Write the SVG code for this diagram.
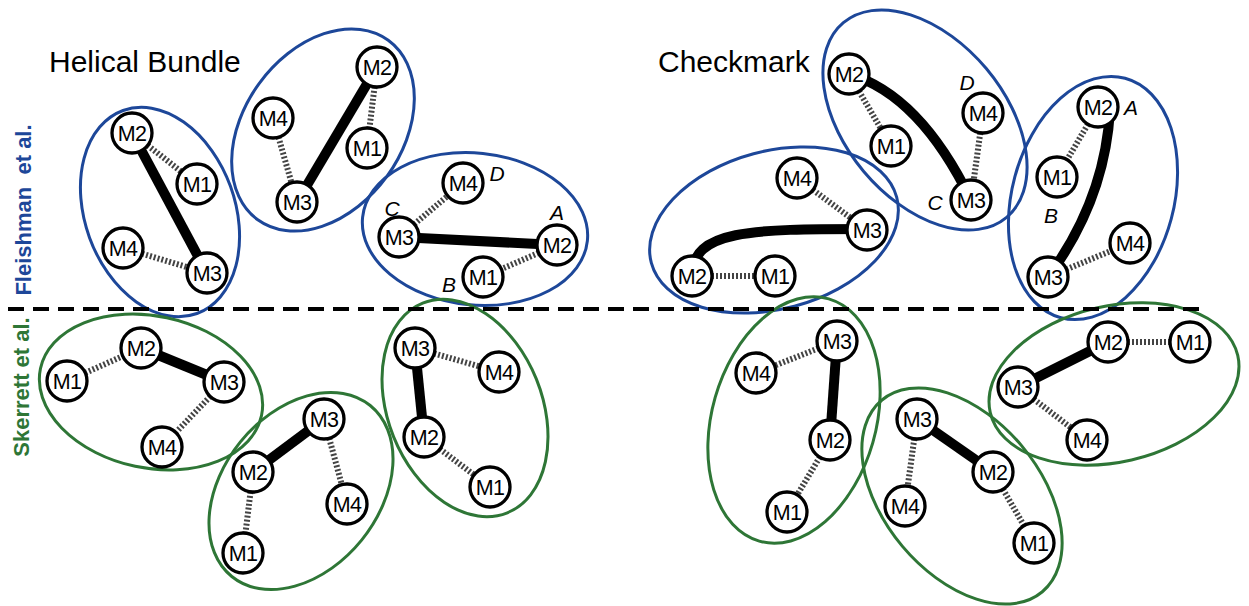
<svg xmlns="http://www.w3.org/2000/svg" width="1249" height="606" viewBox="0 0 1249 606">
  <style>
    .fl { fill: none; stroke: #1d4799; stroke-width: 3; }
    .sk { fill: none; stroke: #2e7636; stroke-width: 3; }
    .strong { fill: none; stroke: #000; stroke-width: 10; stroke-linecap: butt; }
    .weak { fill: none; stroke: #444; stroke-width: 6; stroke-dasharray: 2 2; }
    .node text { font-family: "Liberation Sans", Arial, sans-serif; font-size: 21.5px; text-anchor: middle; fill: #000; letter-spacing: -0.8px; }
    .title { font-family: "Liberation Sans", Arial, sans-serif; font-size: 30px; fill: #000; }
    .side { font-family: "Liberation Sans", Arial, sans-serif; font-size: 22px; font-weight: bold; text-anchor: middle; white-space: pre; }
    .site { font-family: "Liberation Sans", Arial, sans-serif; font-size: 21px; font-style: italic; fill: #000; text-anchor: middle; }
  </style>
  <defs>
    <!-- white bead with black rim, reused for every subunit -->
    <circle id="bead" r="20" fill="#fff" stroke="#000" stroke-width="3.3"/>
  </defs>

  <rect width="1249" height="606" fill="#fff"/>

  <!-- headings -->
  <text class="title" x="49" y="72">Helical Bundle</text>
  <text class="title" x="658" y="72">Checkmark</text>
  <text class="side" fill="#1d4799" transform="translate(31 210) rotate(-90)">Fleishman  et al.</text>
  <text class="side" fill="#2e7636" transform="translate(29 387) rotate(-90)">Skerrett et al.</text>

  <!-- cluster outlines -->
  <g id="clusters">
    <ellipse class="fl" cx="160" cy="212" rx="75" ry="108" transform="rotate(-20 160 212)"/>
    <ellipse class="fl" cx="323" cy="130" rx="79" ry="111" transform="rotate(36 323 130)"/>
    <ellipse class="fl" cx="475" cy="229" rx="113" ry="76" transform="rotate(6 475 229)"/>
    <ellipse class="fl" cx="925" cy="120" rx="80" ry="127" transform="rotate(-40 925 120)"/>
    <ellipse class="fl" cx="774" cy="230" rx="127" ry="79" transform="rotate(-15 774 230)"/>
    <ellipse class="fl" cx="1093" cy="198" rx="81" ry="124" transform="rotate(15 1093 198)"/>

    <ellipse class="sk" cx="151" cy="392" rx="113" ry="76" transform="rotate(12 151 392)"/>
    <ellipse class="sk" cx="301" cy="491" rx="78" ry="110" transform="rotate(39 301 491)"/>
    <ellipse class="sk" cx="465" cy="408" rx="77" ry="113" transform="rotate(-22 465 408)"/>
    <ellipse class="sk" cx="794" cy="420" rx="82" ry="126" transform="rotate(16 794 420)"/>
    <ellipse class="sk" cx="962" cy="496" rx="78" ry="125" transform="rotate(-40 962 496)"/>
    <ellipse class="sk" cx="1114" cy="384" rx="127" ry="78" transform="rotate(-13 1114 384)"/>
  </g>

  <!-- divider between the two model sets -->
  <line x1="8" y1="309" x2="1202" y2="309" stroke="#000" stroke-width="4" stroke-dasharray="16 9"/>

  <g id="connectors">
    <!-- helical bundle, Fleishman -->
    <line class="strong" x1="132" y1="133" x2="207" y2="273"/>
    <line class="weak" x1="132" y1="133" x2="197" y2="184"/>
    <line class="weak" x1="123" y1="248" x2="207" y2="273"/>
    <line class="strong" x1="377" y1="67" x2="297" y2="202"/>
    <line class="weak" x1="377" y1="67" x2="367" y2="148"/>
    <line class="weak" x1="273" y1="118" x2="297" y2="202"/>
    <line class="strong" x1="399" y1="237" x2="557" y2="245"/>
    <line class="weak" x1="399" y1="237" x2="463" y2="183"/>
    <line class="weak" x1="557" y1="245" x2="483" y2="277"/>
    <!-- checkmark, Fleishman -->
    <path class="strong" d="M849 74 Q920 95 971 200"/>
    <line class="weak" x1="849" y1="74" x2="891" y2="146"/>
    <line class="weak" x1="983" y1="113" x2="971" y2="200"/>
    <path class="strong" d="M867 229 C750 229 692 230 692 276"/>
    <line class="weak" x1="797" y1="178" x2="867" y2="230"/>
    <line class="weak" x1="692" y1="276" x2="775" y2="276"/>
    <path class="strong" d="M1110 110 Q1105 200 1048 277"/>
    <line class="weak" x1="1098" y1="107" x2="1057" y2="177"/>
    <line class="weak" x1="1048" y1="277" x2="1130" y2="243"/>
    <!-- helical bundle, Skerrett -->
    <line class="strong" x1="141" y1="348" x2="224" y2="382"/>
    <line class="weak" x1="67" y1="381" x2="141" y2="348"/>
    <line class="weak" x1="224" y1="382" x2="162" y2="447"/>
    <line class="strong" x1="324" y1="419" x2="253" y2="472"/>
    <line class="weak" x1="324" y1="419" x2="347" y2="504"/>
    <line class="weak" x1="253" y1="472" x2="243" y2="553"/>
    <line class="strong" x1="415" y1="348" x2="424" y2="437"/>
    <line class="weak" x1="415" y1="348" x2="499" y2="372"/>
    <line class="weak" x1="424" y1="437" x2="490" y2="487"/>
    <!-- checkmark, Skerrett -->
    <line class="strong" x1="837" y1="341" x2="830" y2="440"/>
    <line class="weak" x1="837" y1="341" x2="756" y2="373"/>
    <line class="weak" x1="830" y1="440" x2="787" y2="512"/>
    <line class="strong" x1="917" y1="419" x2="993" y2="472"/>
    <line class="weak" x1="917" y1="419" x2="905" y2="506"/>
    <line class="weak" x1="993" y1="472" x2="1034" y2="543"/>
    <line class="strong" x1="1108" y1="342" x2="1018" y2="387"/>
    <line class="weak" x1="1108" y1="342" x2="1190" y2="342"/>
    <line class="weak" x1="1018" y1="387" x2="1087" y2="440"/>
  </g>

  <!-- helical bundle, Fleishman -->
  <g id="hb-f1-m2" class="node" transform="translate(132 133)"><use href="#bead"/><text y="7.5">M2</text></g>
  <g id="hb-f1-m1" class="node" transform="translate(197 184)"><use href="#bead"/><text y="7.5">M1</text></g>
  <g id="hb-f1-m4" class="node" transform="translate(123 248)"><use href="#bead"/><text y="7.5">M4</text></g>
  <g id="hb-f1-m3" class="node" transform="translate(207 273)"><use href="#bead"/><text y="7.5">M3</text></g>

  <g id="hb-f2-m2" class="node" transform="translate(377 67)"><use href="#bead"/><text y="7.5">M2</text></g>
  <g id="hb-f2-m4" class="node" transform="translate(273 118)"><use href="#bead"/><text y="7.5">M4</text></g>
  <g id="hb-f2-m1" class="node" transform="translate(367 148)"><use href="#bead"/><text y="7.5">M1</text></g>
  <g id="hb-f2-m3" class="node" transform="translate(297 202)"><use href="#bead"/><text y="7.5">M3</text></g>

  <g id="hb-f3-m4" class="node" transform="translate(463 183)"><use href="#bead"/><text y="7.5">M4</text></g>
  <g id="hb-f3-m3" class="node" transform="translate(399 237)"><use href="#bead"/><text y="7.5">M3</text></g>
  <g id="hb-f3-m2" class="node" transform="translate(557 245)"><use href="#bead"/><text y="7.5">M2</text></g>
  <g id="hb-f3-m1" class="node" transform="translate(483 277)"><use href="#bead"/><text y="7.5">M1</text></g>
  <g id="hb-f3-sites">
    <text class="site" x="497" y="181">D</text>
    <text class="site" x="392" y="216">C</text>
    <text class="site" x="557" y="220">A</text>
    <text class="site" x="449" y="292">B</text>
  </g>

  <!-- checkmark, Fleishman -->
  <g id="cm-f1-m2" class="node" transform="translate(849 74)"><use href="#bead"/><text y="7.5">M2</text></g>
  <g id="cm-f1-m1" class="node" transform="translate(891 146)"><use href="#bead"/><text y="7.5">M1</text></g>
  <g id="cm-f1-m4" class="node" transform="translate(983 113)"><use href="#bead"/><text y="7.5">M4</text></g>
  <g id="cm-f1-m3" class="node" transform="translate(971 200)"><use href="#bead"/><text y="7.5">M3</text></g>
  <g id="cm-f1-sites">
    <text class="site" x="967" y="90">D</text>
    <text class="site" x="935" y="210">C</text>
  </g>

  <g id="cm-f2-m4" class="node" transform="translate(797 178)"><use href="#bead"/><text y="7.5">M4</text></g>
  <g id="cm-f2-m3" class="node" transform="translate(867 230)"><use href="#bead"/><text y="7.5">M3</text></g>
  <g id="cm-f2-m2" class="node" transform="translate(692 276)"><use href="#bead"/><text y="7.5">M2</text></g>
  <g id="cm-f2-m1" class="node" transform="translate(775 276)"><use href="#bead"/><text y="7.5">M1</text></g>

  <g id="cm-f3-m2" class="node" transform="translate(1098 107)"><use href="#bead"/><text y="7.5">M2</text></g>
  <g id="cm-f3-m1" class="node" transform="translate(1057 177)"><use href="#bead"/><text y="7.5">M1</text></g>
  <g id="cm-f3-m4" class="node" transform="translate(1130 243)"><use href="#bead"/><text y="7.5">M4</text></g>
  <g id="cm-f3-m3" class="node" transform="translate(1048 277)"><use href="#bead"/><text y="7.5">M3</text></g>
  <g id="cm-f3-sites">
    <text class="site" x="1131" y="115">A</text>
    <text class="site" x="1051" y="223">B</text>
  </g>

  <!-- helical bundle, Skerrett -->
  <g id="hb-s1-m2" class="node" transform="translate(141 348)"><use href="#bead"/><text y="7.5">M2</text></g>
  <g id="hb-s1-m1" class="node" transform="translate(67 381)"><use href="#bead"/><text y="7.5">M1</text></g>
  <g id="hb-s1-m3" class="node" transform="translate(224 382)"><use href="#bead"/><text y="7.5">M3</text></g>
  <g id="hb-s1-m4" class="node" transform="translate(162 447)"><use href="#bead"/><text y="7.5">M4</text></g>

  <g id="hb-s2-m3" class="node" transform="translate(324 419)"><use href="#bead"/><text y="7.5">M3</text></g>
  <g id="hb-s2-m2" class="node" transform="translate(253 472)"><use href="#bead"/><text y="7.5">M2</text></g>
  <g id="hb-s2-m4" class="node" transform="translate(347 504)"><use href="#bead"/><text y="7.5">M4</text></g>
  <g id="hb-s2-m1" class="node" transform="translate(243 553)"><use href="#bead"/><text y="7.5">M1</text></g>

  <g id="hb-s3-m3" class="node" transform="translate(415 348)"><use href="#bead"/><text y="7.5">M3</text></g>
  <g id="hb-s3-m4" class="node" transform="translate(499 372)"><use href="#bead"/><text y="7.5">M4</text></g>
  <g id="hb-s3-m2" class="node" transform="translate(424 437)"><use href="#bead"/><text y="7.5">M2</text></g>
  <g id="hb-s3-m1" class="node" transform="translate(490 487)"><use href="#bead"/><text y="7.5">M1</text></g>

  <!-- checkmark, Skerrett -->
  <g id="cm-s1-m3" class="node" transform="translate(837 341)"><use href="#bead"/><text y="7.5">M3</text></g>
  <g id="cm-s1-m4" class="node" transform="translate(756 373)"><use href="#bead"/><text y="7.5">M4</text></g>
  <g id="cm-s1-m2" class="node" transform="translate(830 440)"><use href="#bead"/><text y="7.5">M2</text></g>
  <g id="cm-s1-m1" class="node" transform="translate(787 512)"><use href="#bead"/><text y="7.5">M1</text></g>

  <g id="cm-s2-m3" class="node" transform="translate(917 419)"><use href="#bead"/><text y="7.5">M3</text></g>
  <g id="cm-s2-m2" class="node" transform="translate(993 472)"><use href="#bead"/><text y="7.5">M2</text></g>
  <g id="cm-s2-m4" class="node" transform="translate(905 506)"><use href="#bead"/><text y="7.5">M4</text></g>
  <g id="cm-s2-m1" class="node" transform="translate(1034 543)"><use href="#bead"/><text y="7.5">M1</text></g>

  <g id="cm-s3-m2" class="node" transform="translate(1108 342)"><use href="#bead"/><text y="7.5">M2</text></g>
  <g id="cm-s3-m1" class="node" transform="translate(1190 342)"><use href="#bead"/><text y="7.5">M1</text></g>
  <g id="cm-s3-m3" class="node" transform="translate(1018 387)"><use href="#bead"/><text y="7.5">M3</text></g>
  <g id="cm-s3-m4" class="node" transform="translate(1087 440)"><use href="#bead"/><text y="7.5">M4</text></g>
</svg>
